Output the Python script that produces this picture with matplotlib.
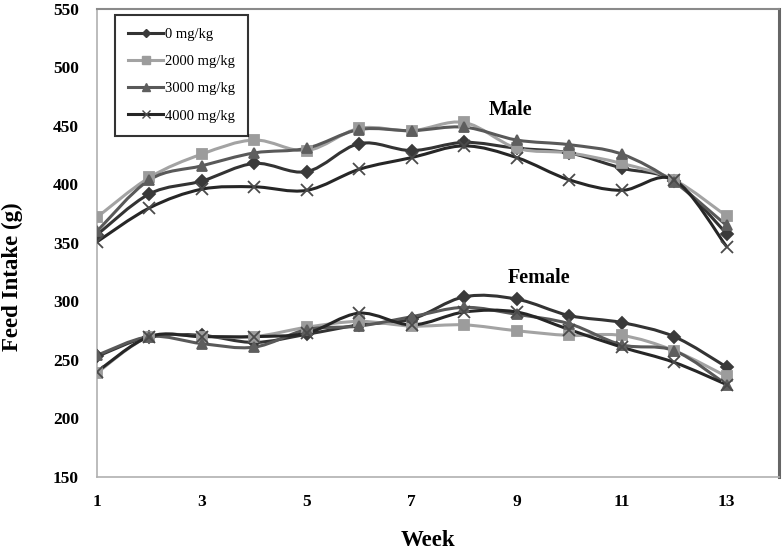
import matplotlib
matplotlib.use("Agg")
import matplotlib.pyplot as plt
from matplotlib.path import Path
from matplotlib.patches import PathPatch
from matplotlib.lines import Line2D

weeks = [1, 2, 3, 4, 5, 6, 7, 8, 9, 10, 11, 12, 13]
doses = ["0 mg/kg", "2000 mg/kg", "3000 mg/kg", "4000 mg/kg"]

male_0 = [357, 392, 403, 418, 411, 435, 429, 436, 431, 427, 414, 403, 358]
male_2000 = [372, 406, 426, 438, 429, 448, 446, 453, 431, 427, 418, 404, 373]
male_3000 = [360, 404, 416, 427, 431, 447, 446, 449, 438, 434, 426, 402, 365]
male_4000 = [351, 380, 396, 398, 395, 413, 423, 433, 423, 404, 395, 404, 347]

female_0 = [253, 270, 271, 265, 272, 280, 285, 304, 302, 288, 282, 270, 244]
female_2000 = [239, 270, 270, 270, 278, 283, 279, 280, 275, 271, 271, 258, 236]
female_3000 = [254, 270, 264, 261, 276, 279, 287, 295, 289, 281, 263, 258, 229]
female_4000 = [240, 270, 270, 270, 273, 290, 280, 291, 291, 276, 261, 248, 229]

line_colors = ["#333333", "#a3a3a3", "#595959", "#262626"]
marker_colors = ["#3a3a3a", "#9c9c9c", "#5e5e5e", "#4a4a4a"]
markers = ["D", "s", "^", "x"]
msizes = [6, 7.5, 7.5, 8]


def smooth_path(xs, ys):
    # excel-like smoothed line: cubic bezier segments through the points
    verts = [(xs[0], ys[0])]
    codes = [Path.MOVETO]
    n = len(xs)
    for i in range(n - 1):
        x0, y0 = xs[max(i - 1, 0)], ys[max(i - 1, 0)]
        x1, y1 = xs[i], ys[i]
        x2, y2 = xs[i + 1], ys[i + 1]
        x3, y3 = xs[min(i + 2, n - 1)], ys[min(i + 2, n - 1)]
        c1 = (x1 + (x2 - x0) / 6, y1 + (y2 - y0) / 6)
        c2 = (x2 - (x3 - x1) / 6, y2 - (y3 - y1) / 6)
        verts += [c1, c2, (x2, y2)]
        codes += [Path.CURVE4, Path.CURVE4, Path.CURVE4]
    return Path(verts, codes)


plt.rcParams['font.family'] = ['Liberation Serif', 'DejaVu Serif']

fig = plt.figure(figsize=(7.83, 5.52), dpi=100)
ax = fig.add_axes([0.1239, 0.1359, 0.871, 0.8478])

groups = [
    [male_0, male_2000, male_3000, male_4000],
    [female_0, female_2000, female_3000, female_4000],
]
for series in groups:
    for k, vals in enumerate(series):
        ax.add_patch(PathPatch(smooth_path(weeks, vals), fill=False,
                               edgecolor=line_colors[k], lw=2.2, zorder=2 + k * 0.1))
        ax.plot(weeks, vals, linestyle="none", marker=markers[k], ms=msizes[k],
                color=marker_colors[k], mec=marker_colors[k], mew=1.3, zorder=4)

ax.set_xlim(1, 14)
ax.set_ylim(150, 550)
ax.set_xticks([1, 3, 5, 7, 9, 11, 13])
ax.set_yticks(range(150, 551, 50))
ax.tick_params(length=0, labelsize=12.5)
ax.tick_params(axis="y", pad=13)
ax.tick_params(axis="x", pad=12)
for lab in ax.get_xticklabels() + ax.get_yticklabels():
    lab.set_fontweight("bold")

ax.spines["left"].set_color("#b0b0b0")
ax.spines["bottom"].set_color("#b0b0b0")
ax.spines["left"].set_linewidth(1.2)
ax.spines["bottom"].set_linewidth(1.2)
ax.spines["top"].set_color("#8a8a8a")
ax.spines["top"].set_linewidth(1.5)
ax.spines["right"].set_color("#666666")
ax.spines["right"].set_linewidth(2.2)

ax.text(8.89, 464, "Male", ha="center", va="center", fontsize=14.5, fontweight="bold")
ax.text(9.42, 320, "Female", ha="center", va="center", fontsize=14.5, fontweight="bold")

fig.text(0.016, 0.498, "Feed Intake (g)", rotation=90, ha="center", va="center",
         fontsize=16.5, fontweight="bold")
fig.text(0.547, 0.02, "Week", ha="center", va="center", fontsize=16.5, fontweight="bold")

handles = [Line2D([], [], color=line_colors[k], lw=2.2, marker=markers[k],
                  ms=msizes[k] * 0.7, mfc=marker_colors[k], mec=marker_colors[k])
           for k in range(4)]
leg = ax.legend(handles, doses, loc="upper left", bbox_to_anchor=(0.1469, 0.9728),
                bbox_transform=fig.transFigure, borderaxespad=0, fancybox=False,
                edgecolor="black", fontsize=10.5, handlelength=2.4, labelspacing=0.95,
                handletextpad=0.1, borderpad=0.9)
leg.get_frame().set_linewidth(1.5)

fig.savefig("out.png", dpi=100)
